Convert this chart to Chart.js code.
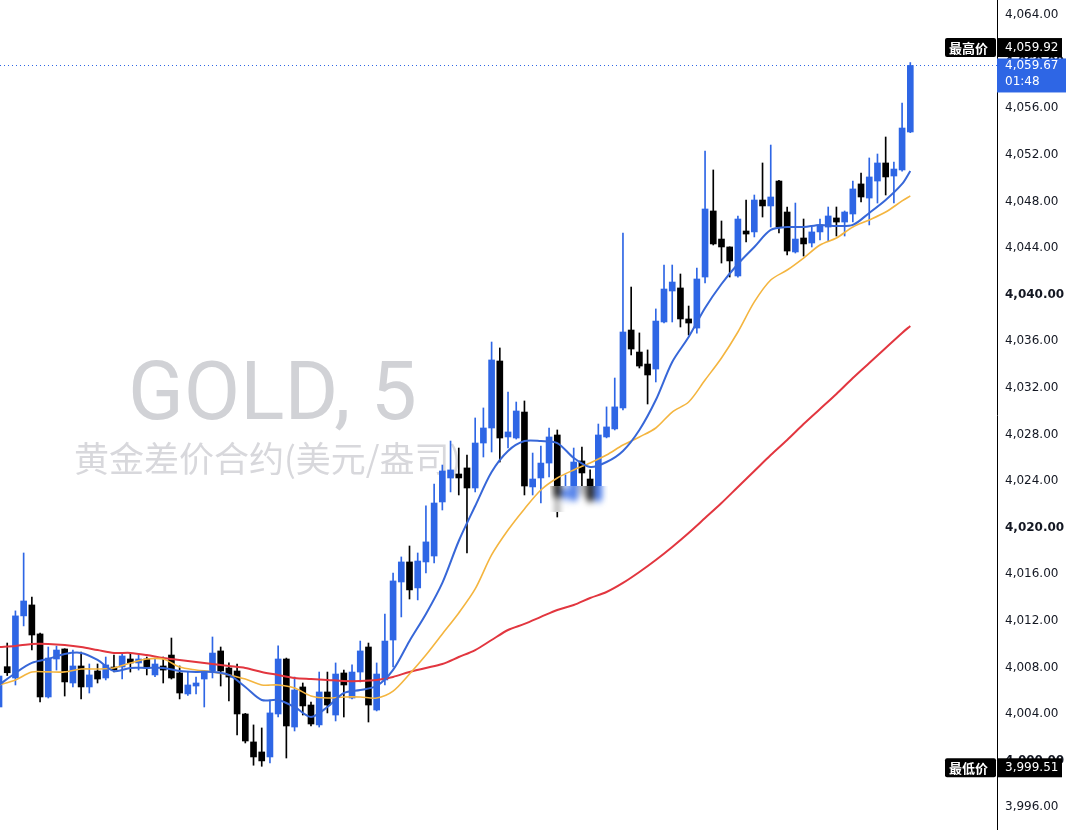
<!DOCTYPE html>
<html>
<head>
<meta charset="utf-8">
<script src="https://cdn.jsdelivr.net/npm/chart.js@4.4.1/dist/chart.umd.min.js"></script>
<style>
  html, body { margin: 0; padding: 0; background: #fff; overflow: hidden; }
</style>
</head>
<body>
<canvas id="chart" width="1066" height="830"></canvas>
<script>
// 5-minute candles, oldest first
const opens = [4004.60, 4008.06, 4007.09, 4012.42, 4013.36, 4010.87, 4005.46, 4008.72, 4009.58, 4006.66,
  4008.12, 4006.32, 4007.69, 4007.09, 4008.03, 4008.03, 4008.72, 4008.38, 4008.72, 4007.35,
  4008.12, 4009.06, 4007.52, 4005.72, 4006.40, 4007.00, 4007.69, 4009.41, 4007.95, 4007.69,
  4004.00, 4001.60, 4000.74, 4000.31, 4004.00, 4008.72, 4002.88, 4006.32, 4004.77, 4003.06,
  4005.89, 4003.91, 4007.52, 4005.37, 4007.60, 4009.75, 4004.34, 4006.92, 4010.35, 4015.33,
  4017.05, 4014.82, 4017.05, 4017.56, 4022.20, 4024.26, 4024.60, 4025.12, 4023.40, 4027.26,
  4028.55, 4034.30, 4027.78, 4027.69, 4029.92, 4023.49, 4024.26, 4025.54, 4027.95, 4022.63,
  4022.37, 4025.72, 4024.17, 4022.37, 4027.78, 4028.47, 4030.27, 4036.96, 4035.07, 4034.04,
  4033.61, 4037.65, 4040.31, 4040.57, 4037.91, 4037.13, 4041.51, 4047.18, 4044.77, 4044.09,
  4041.60, 4045.46, 4045.38, 4048.12, 4047.61, 4049.75, 4047.09, 4043.66, 4044.86, 4044.43,
  4045.38, 4045.80, 4046.58, 4046.23, 4046.92, 4049.50, 4048.29, 4049.75, 4051.30, 4050.18,
  4050.70, 4053.96];
const highs = [4007.80, 4010.09, 4012.85, 4017.82, 4014.04, 4010.95, 4009.75, 4009.83, 4009.60, 4009.49,
  4009.32, 4008.29, 4008.29, 4008.89, 4009.06, 4009.23, 4009.23, 4009.06, 4008.89, 4008.80,
  4008.89, 4010.52, 4008.12, 4007.60, 4007.17, 4007.65, 4010.61, 4009.75, 4008.38, 4008.29,
  4004.05, 4003.06, 4002.80, 4005.20, 4009.84, 4008.80, 4007.17, 4006.66, 4005.03, 4007.60,
  4007.60, 4008.38, 4007.77, 4008.21, 4010.26, 4010.09, 4008.38, 4012.58, 4016.10, 4017.48,
  4018.42, 4017.82, 4021.86, 4023.74, 4025.37, 4027.43, 4026.83, 4026.23, 4029.41, 4030.27,
  4035.93, 4035.42, 4031.64, 4030.78, 4030.87, 4026.40, 4027.00, 4028.55, 4028.38, 4024.52,
  4026.83, 4026.92, 4024.95, 4028.89, 4030.36, 4032.84, 4045.29, 4040.65, 4036.71, 4035.25,
  4038.77, 4042.54, 4042.54, 4041.77, 4039.02, 4042.28, 4052.33, 4050.70, 4046.32, 4044.10,
  4046.75, 4048.12, 4048.55, 4051.30, 4052.84, 4049.80, 4047.52, 4047.86, 4046.49, 4045.80,
  4046.49, 4047.52, 4047.52, 4047.18, 4049.75, 4050.44, 4051.73, 4052.07, 4053.53, 4051.38,
  4056.45, 4059.92];
const lows = [4004.00, 4007.30, 4006.49, 4011.56, 4009.49, 4005.03, 4005.37, 4007.77, 4005.54, 4006.32,
  4005.29, 4005.80, 4006.66, 4006.92, 4007.60, 4007.00, 4007.60, 4007.77, 4007.35, 4007.20,
  4006.66, 4007.00, 4005.29, 4005.60, 4005.72, 4004.60, 4007.09, 4006.40, 4005.11, 4002.20,
  4001.51, 3999.60, 3999.51, 3999.80, 4003.74, 4000.22, 4002.54, 4003.91, 4002.97, 4002.88,
  4004.09, 4003.40, 4003.74, 4005.29, 4006.75, 4003.31, 4004.26, 4006.49, 4008.03, 4012.33,
  4013.87, 4013.79, 4016.10, 4016.96, 4021.51, 4023.06, 4022.80, 4017.82, 4023.06, 4026.06,
  4026.49, 4025.63, 4026.83, 4027.60, 4022.80, 4022.80, 4022.11, 4024.34, 4020.91, 4022.20,
  4022.28, 4022.80, 4022.11, 4022.11, 4027.70, 4028.38, 4030.10, 4034.82, 4033.70, 4030.61,
  4032.50, 4037.56, 4037.65, 4037.22, 4036.53, 4036.70, 4041.00, 4044.26, 4042.71, 4041.51,
  4041.50, 4044.52, 4044.95, 4046.66, 4045.80, 4045.29, 4043.40, 4043.57, 4043.31, 4044.09,
  4044.69, 4044.60, 4045.03, 4045.03, 4046.23, 4047.95, 4045.98, 4047.86, 4048.55, 4047.86,
  4050.60, 4053.90];
const closes = [4007.26, 4007.54, 4012.42, 4013.70, 4010.78, 4005.46, 4008.80, 4009.49, 4006.75, 4008.12,
  4006.32, 4007.35, 4007.00, 4008.21, 4007.77, 4008.98, 4008.38, 4008.72, 4007.95, 4008.29,
  4007.77, 4007.09, 4005.80, 4006.49, 4006.66, 4007.60, 4009.23, 4007.69, 4007.17, 4004.00,
  4001.68, 4000.31, 3999.97, 4004.09, 4008.72, 4002.97, 4006.06, 4004.69, 4003.14, 4005.89,
  4004.77, 4007.43, 4006.49, 4007.60, 4009.41, 4004.77, 4007.43, 4010.26, 4015.42, 4017.05,
  4014.65, 4017.13, 4018.77, 4022.11, 4024.86, 4024.95, 4024.26, 4023.40, 4027.26, 4028.55,
  4034.39, 4027.69, 4028.21, 4030.01, 4023.57, 4024.17, 4025.54, 4027.78, 4022.63, 4023.23,
  4025.63, 4024.69, 4022.37, 4027.95, 4028.64, 4030.36, 4036.79, 4035.33, 4033.87, 4033.10,
  4037.73, 4040.48, 4041.08, 4037.91, 4037.56, 4041.34, 4047.35, 4044.35, 4044.09, 4042.89,
  4046.49, 4045.20, 4048.12, 4047.61, 4048.38, 4045.80, 4043.74, 4044.77, 4044.35, 4045.38,
  4045.98, 4046.75, 4046.23, 4047.09, 4049.07, 4048.38, 4050.10, 4051.30, 4050.10, 4050.78,
  4054.30, 4059.67];

// moving averages, read at every second candle
const maIndex = [0, 2, 4, 6, 8, 10, 12, 14, 16, 18, 20, 22, 24, 26, 28, 30, 32, 34, 36, 38,
  40, 42, 44, 46, 48, 50, 52, 54, 56, 58, 60, 62, 64, 66, 68, 70, 72, 74, 76, 78,
  80, 82, 84, 86, 88, 90, 92, 94, 96, 98, 100, 102, 104, 106, 108, 110, 111];
const maFast = [4006.49, 4007.52, 4008.38, 4008.72, 4009.15, 4009.24, 4008.64, 4007.69, 4007.95, 4007.95,
  4007.95, 4007.69, 4007.61, 4007.61, 4007.35, 4006.32, 4005.20, 4005.20, 4004.60, 4003.74,
  4004.60, 4005.80, 4006.06, 4006.40, 4007.78, 4010.27, 4012.58, 4015.25, 4018.85, 4021.85,
  4024.77, 4026.58, 4027.43, 4027.43, 4027.26, 4025.98, 4025.20, 4025.63, 4026.58, 4028.38,
  4030.95, 4034.22, 4036.36, 4038.85, 4040.91, 4042.63, 4044.09, 4045.55, 4045.80, 4045.80,
  4045.98, 4045.89, 4045.98, 4047.01, 4048.12, 4049.50, 4050.61];
const maMid = [4006.49, 4006.92, 4007.61, 4007.61, 4007.61, 4007.86, 4007.86, 4007.95, 4008.38, 4008.72,
  4008.72, 4008.03, 4007.78, 4007.61, 4007.35, 4007.00, 4006.49, 4006.49, 4006.23, 4005.55,
  4005.37, 4005.46, 4005.46, 4005.37, 4005.97, 4007.43, 4009.06, 4010.87, 4012.67, 4014.73,
  4017.65, 4019.79, 4021.60, 4023.23, 4024.26, 4024.95, 4025.55, 4026.23, 4027.09, 4027.78,
  4028.55, 4029.92, 4030.78, 4032.67, 4034.56, 4036.79, 4039.37, 4041.25, 4042.11, 4043.14,
  4044.26, 4044.86, 4045.80, 4046.41, 4047.09, 4048.04, 4048.47];
const maSlow = [4009.75, 4009.84, 4010.01, 4010.01, 4009.92, 4009.75, 4009.49, 4009.24, 4009.24, 4009.06,
  4008.81, 4008.64, 4008.46, 4008.29, 4008.12, 4007.95, 4007.61, 4007.35, 4007.09, 4007.00,
  4006.92, 4006.83, 4006.83, 4006.92, 4007.18, 4007.61, 4007.95, 4008.29, 4008.89, 4009.49,
  4010.35, 4011.21, 4011.73, 4012.33, 4012.93, 4013.36, 4013.96, 4014.47, 4015.25, 4016.19,
  4017.22, 4018.34, 4019.54, 4020.82, 4022.11, 4023.49, 4024.86, 4026.23, 4027.52, 4028.89,
  4030.18, 4031.47, 4032.84, 4034.13, 4035.42, 4036.71, 4037.31];

const yTicks = [3996, 4000, 4004, 4008, 4012, 4016, 4020, 4024, 4028, 4032, 4036, 4040, 4044, 4048, 4052, 4056, 4060, 4064];
const highPrice = 4059.92;
const lowPrice = 3999.51;
const lastPrice = 4059.67;
const lastTime = '01:48';
const symbol = 'GOLD, 5';
const symbolName = '黄金差价合约(美元/盎司)';

const UP = '#2e66e5';
const DOWN = '#000000';
const fmt = v => v.toLocaleString('en-US', { minimumFractionDigits: 2, maximumFractionDigits: 2 });

const candleColors = closes.map((c, i) => c >= opens[i] ? UP : DOWN);
const wickData = highs.map((h, i) => ({ x: i, y: [lows[i], h] }));
const bodyData = opens.map((o, i) => ({ x: i, y: [o, closes[i]] }));
const maPoints = arr => maIndex.map((x, k) => ({ x: x, y: arr[k] }));

// watermark behind candles
const watermark = {
  id: 'watermark',
  beforeDatasetsDraw(chart) {
    const c = chart.ctx;
    c.save();
    c.textBaseline = 'alphabetic';
    c.textAlign = 'left';
    c.fillStyle = '#d1d2d6';
    c.font = '82px Roboto, "Noto Sans", sans-serif';
    c.fillText(symbol, 128, 419);
    c.fillStyle = '#d8d8dc';
    c.font = '35px "Noto Sans CJK SC", sans-serif';
    c.fillText(symbolName, 74, 472);
    // last price dotted line
    const y = chart.scales.y.getPixelForValue(lastPrice);
    c.strokeStyle = UP;
    c.lineWidth = 1;
    c.setLineDash([1, 3]);
    c.beginPath();
    c.moveTo(chart.chartArea.left, Math.round(y) + 0.5);
    c.lineTo(chart.chartArea.right, Math.round(y) + 0.5);
    c.stroke();
    c.restore();
  }
};

// blurred patch over a few candles, as in the screenshot
const blurPatch = {
  id: 'blurPatch',
  afterDatasetsDraw(chart) {
    const x = 550, y = 486, w = 58, h = 26;
    const off = document.createElement('canvas');
    off.width = w + 20; off.height = h + 20;
    off.getContext('2d').drawImage(chart.canvas, x - 10, y - 10, w + 20, h + 20, 0, 0, w + 20, h + 20);
    const c = chart.ctx;
    c.save();
    c.beginPath();
    c.rect(x, y, w, h);
    c.clip();
    c.fillStyle = '#fff';
    c.fillRect(x, y, w, h);
    c.filter = 'blur(3px)';
    c.drawImage(off, x - 10, y - 10);
    c.restore();
  }
};

// price labels on the right axis
const priceLabels = {
  id: 'priceLabels',
  afterDraw(chart) {
    const c = chart.ctx;
    const ys = chart.scales.y;
    const axisX = chart.chartArea.right;
    c.save();
    c.textBaseline = 'middle';

    function tagBox(text, price, cy) {
      c.fillStyle = '#000';
      c.beginPath();
      c.roundRect(axisX - 52, cy - 9.5, 51, 19, 2);
      c.fill();
      c.fillRect(axisX, cy - 9.5, 65, 19);
      c.fillStyle = '#fff';
      c.textAlign = 'left';
      c.font = 'bold 13px "Noto Sans CJK SC", sans-serif';
      c.fillText(text, axisX - 48, cy + 0.5);
      c.font = '12px "DejaVu Sans", sans-serif';
      c.fillText(fmt(price), axisX + 8, cy + 0.5);
    }
    tagBox('最高价', highPrice, ys.getPixelForValue(highPrice) - 15);
    tagBox('最低价', lowPrice, ys.getPixelForValue(lowPrice) + 1.5);

    const ly = ys.getPixelForValue(lastPrice);
    c.fillStyle = UP;
    c.fillRect(axisX, ly - 7, 70, 34);
    c.fillStyle = '#fff';
    c.textAlign = 'left';
    c.font = '12px "DejaVu Sans", sans-serif';
    c.fillText(fmt(lastPrice), axisX + 8, ly + 0.5);
    c.fillText(lastTime, axisX + 8, ly + 16.5);
    c.restore();
  }
};

new Chart(document.getElementById('chart'), {
  type: 'bar',
  data: {
    datasets: [
      { type: 'line', label: 'MA fast', data: maPoints(maFast), borderColor: '#3767d8', borderWidth: 2, pointRadius: 0, tension: 0.3, order: 1 },
      { type: 'line', label: 'MA mid', data: maPoints(maMid), borderColor: '#f4b53f', borderWidth: 1.6, pointRadius: 0, tension: 0.3, order: 2 },
      { type: 'line', label: 'MA slow', data: maPoints(maSlow), borderColor: '#e2363f', borderWidth: 2, pointRadius: 0, tension: 0.3, order: 3 },
      { label: 'body', data: bodyData, backgroundColor: candleColors, barThickness: 6, minBarLength: 1, grouped: false, order: 4 },
      { label: 'wick', data: wickData, backgroundColor: candleColors, barThickness: 1, grouped: false, order: 5 }
    ]
  },
  options: {
    responsive: false,
    animation: false,
    layout: { padding: 0 },
    plugins: { legend: { display: false }, tooltip: { enabled: false } },
    scales: {
      x: {
        type: 'linear',
        offset: false,
        min: 0.12,
        max: 121.56,
        display: false
      },
      y: {
        position: 'right',
        min: 3994.04,
        max: 4065.29,
        grid: { display: false, drawTicks: false },
        border: { display: true, color: '#000', width: 1 },
        afterBuildTicks: scale => { scale.ticks = yTicks.map(v => ({ value: v })); },
        afterFit: scale => { scale.width = 69; scale.paddingTop = 0; scale.paddingBottom = 0; },
        ticks: {
          autoSkip: false,
          padding: 8,
          color: '#131722',
          font: ctx => ({ family: '"DejaVu Sans", sans-serif', size: 12, weight: ctx.tick && ctx.tick.value % 20 === 0 ? 'bold' : 'normal' }),
          callback: v => fmt(v)
        }
      }
    }
  },
  plugins: [watermark, blurPatch, priceLabels]
});
</script>
</body>
</html>
